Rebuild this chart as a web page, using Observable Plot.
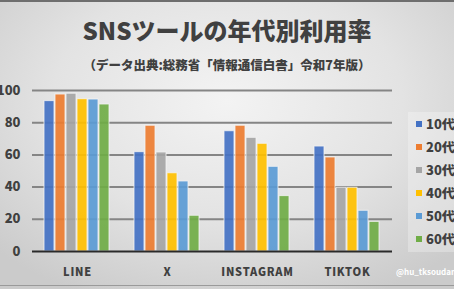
<!DOCTYPE html>
<html><head><meta charset="utf-8">
<script src="https://cdn.jsdelivr.net/npm/d3@7"></script>
<script src="https://cdn.jsdelivr.net/npm/@observablehq/plot@0.6"></script>
<style>
html,body{margin:0;padding:0;}
body{width:454px;height:289px;overflow:hidden;}
#wrap{position:relative;width:454px;height:289px;overflow:hidden;
 background:radial-gradient(ellipse 70% 75% at 50% 35%, #f3f3f3 0%, #e3e3e3 55%, #cbcbcb 100%);
 font-family:"Noto Sans CJK JP","Noto Sans",sans-serif;color:#404040;}
#topline{position:absolute;left:0;top:0;width:454px;height:2px;background:#6e6e6e;}
#botline{position:absolute;left:0;top:285px;width:454px;height:1px;background:#9a9a9a;}
#title{position:absolute;left:0;width:454px;top:16px;text-align:center;font-size:24px;font-weight:900;line-height:28px;}
#subtitle{position:absolute;left:0;width:454px;top:56px;text-align:center;font-size:12.5px;font-weight:900;line-height:18px;}
#chart{position:absolute;left:0;top:80px;}
#legend{position:absolute;left:408px;top:112px;width:50px;height:140px;background:rgba(255,255,255,0.28);}
.li{position:absolute;left:8px;height:18px;line-height:18px;font-size:13px;font-weight:900;white-space:nowrap;}
.sw{display:inline-block;width:6px;height:6px;margin-right:4px;vertical-align:middle;position:relative;top:-1px;}
#wm{position:absolute;left:396px;top:266px;font-size:8px;font-weight:bold;color:#ffffff;white-space:nowrap;}
svg g[aria-label="fx-axis tick label"] text{letter-spacing:0.8px;}
</style></head>
<body><div id="wrap">
<div id="topline"></div>
<div id="title">SNSツールの年代別利用率</div>
<div id="subtitle">（データ出典:総務省「情報通信白書」令和7年版）</div>
<div id="chart"></div>
<div id="legend"></div>
<div id="wm">@hu_tksoudan</div>
<div id="botline"></div>
</div>
<script>
const platforms = ["LINE", "X", "INSTAGRAM", "TIKTOK"];
const ages = ["10代", "20代", "30代", "40代", "50代", "60代"];
const colors = ["#4472C4", "#ED7D31", "#A5A5A5", "#FFC000", "#5B9BD5", "#70AD47"];
const lineValues = [93.4, 97.5, 98.0, 94.6, 94.4, 91.3];
const xValues = [61.7, 78.1, 61.5, 48.6, 43.5, 22.2];
const instagramValues = [74.7, 78.1, 70.6, 66.9, 52.6, 34.4];
const tiktokValues = [65.2, 58.4, 39.6, 39.6, 25.3, 18.4];
const yTicks = [0, 20, 40, 60, 80, 100];

const series = [lineValues, xValues, instagramValues, tiktokValues];
const data = [];
platforms.forEach((p, i) => ages.forEach((a, j) => data.push({platform: p, age: a, value: series[i][j]})));

const font = '"Noto Sans CJK JP","Noto Sans",sans-serif';
const chart = Plot.plot({
  width: 454, height: 209,
  marginTop: 10, marginBottom: 38, marginLeft: 31, marginRight: 60,
  style: {background: "transparent", fontFamily: font, overflow: "visible"},
  fx: {domain: platforms, paddingInner: 0.22, paddingOuter: 0.11, label: null},
  x: {domain: ages, axis: null, paddingInner: 0.06, paddingOuter: 0},
  y: {domain: [0, 100], axis: null},
  color: {domain: ages, range: colors},
  marks: [
    Plot.ruleY(yTicks.filter(d => d > 0), {stroke: "#858585", strokeWidth: 2, insetLeft: -10, insetRight: -10}),
    Plot.barY(data, {fx: "platform", x: "age", y: "value", fill: "age", fillOpacity: 0.92, stroke: "#f4f4f4", strokeOpacity: 0.8, strokeWidth: 1}),
    Plot.ruleY([0], {stroke: "#2a2a2a", strokeWidth: 2, insetLeft: -10, insetRight: -10}),
    Plot.axisY({ticks: yTicks, tickSize: 0, tickPadding: 22, fontSize: 13, fontWeight: 900, fill: "#404040", label: null}),
    Plot.axisFx({anchor: "bottom", tickSize: 0, tickPadding: 17, fontSize: 11, fontWeight: 900, fill: "#404040", label: null})
  ]
});
document.getElementById("chart").appendChild(chart);

const legend = document.getElementById("legend");
ages.forEach((a, i) => {
  const d = document.createElement("div");
  d.className = "li";
  d.style.top = (3 + i * 23) + "px";
  d.innerHTML = `<span class="sw" style="background:${colors[i]}"></span>${a}`;
  legend.appendChild(d);
});
</script>
</body></html>
